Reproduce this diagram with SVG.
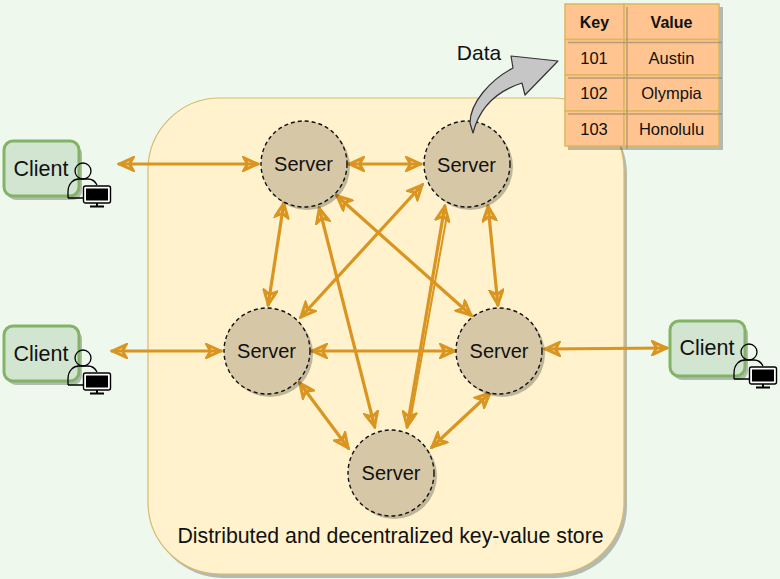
<svg xmlns="http://www.w3.org/2000/svg" width="780" height="579" viewBox="0 0 780 579">
  <style>
    text { font-family: "Liberation Sans", Arial, sans-serif; fill: #111; text-anchor: middle; }
    .store { fill: #fff2cc; stroke: #d9b96e; stroke-width: 1.2; }
    .shade { fill: #000; opacity: .25; }
    .server { fill: #d6c7a6; stroke: #111; stroke-width: 1.4; stroke-dasharray: 4 3; }
    .client { fill: #d1e5d0; stroke: #82b366; stroke-width: 3; }
    .link { fill: none; stroke: #d99520; stroke-width: 3.2; marker-start: url(#head); marker-end: url(#head); }
    .trace { fill: none; stroke: #d99520; stroke-width: 2; }
    .cell { fill: #ffc48f; stroke: #dcb65e; stroke-width: 1.5; }
    .rule { stroke: #9a8a70; stroke-width: 1.5; }
    .person { fill: none; stroke: #000; stroke-width: 1.3; }
    .srv { font-size: 20px; }
    .cli { font-size: 21.500px; }
    .tb { font-size: 16.500px; }
    .th { font-size: 16px; font-weight: bold; }
  </style>
  <defs>
    <marker id="head" viewBox="0 0 18 16" refX="17" refY="8" markerWidth="18" markerHeight="16" markerUnits="userSpaceOnUse" orient="auto-start-reverse">
      <path d="M2 1.800 L15.500 8 L2 14.200 L5.500 8 Z" fill="none" stroke="#d99520" stroke-width="3"/>
    </marker>
    <g id="user">
      <circle cx="0" cy="0" r="8" class="person"/>
      <path class="person" d="M-15 27 V21 C-15 12 -9 8 -4 8 H5 C9 8 12 10 14 14 M-15 27 H0"/>
      <rect x="0.500" y="15" width="27" height="17" rx="2" fill="#fff" stroke="#000" stroke-width="1.4"/>
      <rect x="3" y="17.500" width="22" height="12" fill="#000"/>
      <path d="M14 32 V35 M7 35.500 H21" stroke="#000" stroke-width="2"/>
    </g>
  </defs>

  <rect width="780" height="579" fill="#eef8ec"/>

  <g id="store">
    <rect x="151" y="102" width="476" height="476" rx="72" class="shade"/>
    <rect x="148" y="98" width="476" height="476" rx="72" class="store"/>
    <text x="390.500" y="543" font-size="21.300">Distributed and decentralized key-value store</text>
  </g>

  <g id="connectors">
    <path class="link" d="M118 164 L259 164"/>
    <path class="link" d="M348 164 L422 164"/>
    <path class="link" d="M284 202 L268 306"/>
    <path class="link" d="M319 207 L375 428"/>
    <path class="link" d="M336 195 L472 316"/>
    <path class="link" d="M423 184 L300 318"/>
    <path class="link" d="M445 205 L407 428"/>
    <path class="trace" d="M447 215 L410 422"/>
    <path class="link" d="M488 205 L498 306"/>
    <path class="link" d="M111 351 L222 351"/>
    <path class="link" d="M311 351 L456 351"/>
    <path class="link" d="M544 349 L668 348"/>
    <path class="link" d="M299 382 L349 449"/>
    <path class="link" d="M491 392 L431 448"/>
  </g>

  <g id="server-1">
    <circle cx="307" cy="167" r="43" class="shade"/>
    <circle cx="304" cy="164" r="43" class="server"/>
    <text x="303.500" y="171" class="srv">Server</text>
  </g>
  <g id="server-2">
    <circle cx="470" cy="167" r="43" class="shade"/>
    <circle cx="467" cy="164" r="43" class="server"/>
    <text x="466.500" y="172" class="srv">Server</text>
  </g>
  <g id="server-3">
    <circle cx="270" cy="354" r="43" class="shade"/>
    <circle cx="267" cy="351" r="43" class="server"/>
    <text x="266.500" y="358" class="srv">Server</text>
  </g>
  <g id="server-4">
    <circle cx="502" cy="354" r="43" class="shade"/>
    <circle cx="499" cy="351" r="43" class="server"/>
    <text x="499" y="358" class="srv">Server</text>
  </g>
  <g id="server-5">
    <circle cx="394" cy="476" r="43" class="shade"/>
    <circle cx="391" cy="473" r="43" class="server"/>
    <text x="391" y="480" class="srv">Server</text>
  </g>

  <g id="client-1">
    <rect x="7" y="145" width="75" height="55" rx="9" class="shade"/>
    <rect x="4" y="141" width="75" height="55" rx="9" class="client"/>
    <text x="41" y="176" class="cli">Client</text>
    <use href="#user" x="83" y="171"/>
  </g>
  <g id="client-2">
    <rect x="7" y="330" width="75" height="55" rx="9" class="shade"/>
    <rect x="4" y="326" width="75" height="55" rx="9" class="client"/>
    <text x="41" y="361" class="cli">Client</text>
    <use href="#user" x="83" y="358"/>
  </g>
  <g id="client-3">
    <rect x="673" y="325" width="75" height="55" rx="9" class="shade"/>
    <rect x="670" y="321" width="75" height="55" rx="9" class="client"/>
    <text x="707" y="355" class="cli">Client</text>
    <use href="#user" x="749" y="352"/>
  </g>

  <g id="data-arrow">
    <path d="M473 133 L470 123 C470 103 490 80 513 68 L511 56 L558 61 L525 95 L522 83 C500 90 480 105 473 133 Z" fill="#c6c6c6" stroke="#333" stroke-width="1.2" stroke-linejoin="round"/>
    <text x="479" y="60" font-size="21">Data</text>
  </g>

  <g id="table">
    <rect x="568" y="7" width="155" height="143" class="shade"/>
    <rect x="565" y="4" width="59" height="35.500" class="cell"/>
    <rect x="624" y="4" width="95" height="35.500" class="cell"/>
    <rect x="565" y="39.500" width="59" height="35.500" class="cell"/>
    <rect x="624" y="39.500" width="95" height="35.500" class="cell"/>
    <rect x="565" y="75" width="59" height="36" class="cell"/>
    <rect x="624" y="75" width="95" height="36" class="cell"/>
    <rect x="565" y="111" width="59" height="35" class="cell"/>
    <rect x="624" y="111" width="95" height="35" class="cell"/>
    <path class="rule" d="M627 7 V149 M568 42.500 H722 M568 78 H722 M568 114 H722" opacity=".7"/>
    <text x="594.500" y="28" class="th">Key</text>
    <text x="671.500" y="28" class="th">Value</text>
    <text x="594" y="64" class="tb">101</text>
    <text x="671.500" y="64" class="tb">Austin</text>
    <text x="594" y="99" class="tb">102</text>
    <text x="671.500" y="99" class="tb">Olympia</text>
    <text x="594" y="135" class="tb">103</text>
    <text x="671.500" y="135" class="tb">Honolulu</text>
  </g>
</svg>
